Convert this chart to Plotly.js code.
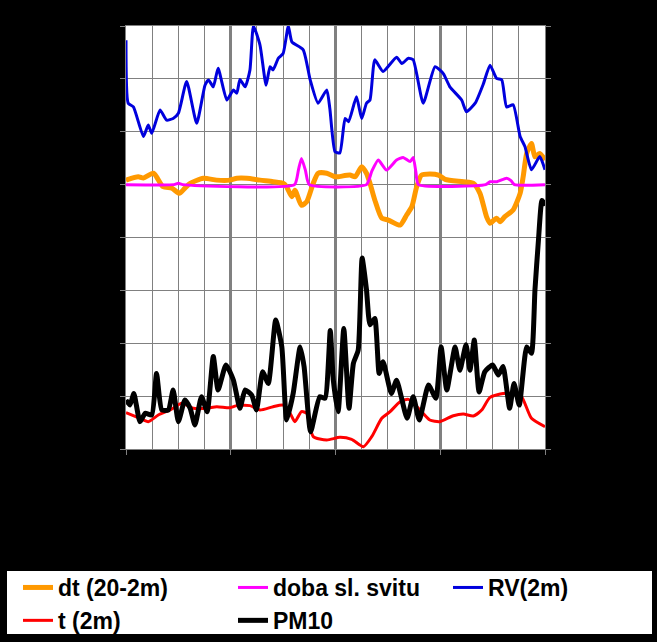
<!DOCTYPE html>
<html>
<head>
<meta charset="utf-8">
<script src="https://cdn.plot.ly/plotly-3.0.1.min.js"></script>
<style>html,body{margin:0;padding:0;background:#000;}#chart{width:657px;height:642px;}</style>
</head>
<body>
<div id="chart"></div>
<script>
// time axis: hours since 30.03.12 00:00
const dayTickVals = [0, 24, 48, 72, 96];
const dayTickText = ["30.03.12", "31.03.12", "01.04.12", "02.04.12", "03.04.12"];
const leftTitle = "dt (°C), doba sl. svitu";
const rightTitle = "PM10 (µg/m3)";

// dt (20-2m) [left axis]
const dtH = [0,2.8,4,6.3,8.5,10.5,12.2,13.5,14.7,17.7,20.8,23.8,25.4,27.7,30.7,33.7,36,36.8,38,38.7,40.2,41.4,42.9,44,46,47.9,48.6,51.3,52.5,54,55.1,55.9,57,58.6,60.1,62.8,64.3,65.5,66.6,67.7,69.6,71.6,73.1,77.3,79.6,81.1,82.6,83.4,84.9,85.7,86.8,88.7,90.3,91,91.8,92.9,93.7,94.8,96];
const dtV = [0.17,0.3,0.25,0.43,-0.08,-0.13,-0.33,-0.13,0.05,0.24,0.17,0.17,0.24,0.24,0.17,0.11,0.05,-0.08,-0.46,-0.21,-0.78,-0.65,0.05,0.43,0.43,0.3,0.3,0.36,0.3,0.68,0.43,0.05,-0.58,-1.27,-1.34,-1.53,-1.15,-0.83,-0.08,0.36,0.4,0.36,0.2,0.11,0.05,-0.33,-1.21,-1.46,-1.27,-1.4,-1.21,-0.96,-0.33,0.3,1.18,1.56,1.05,1.18,0.93];

// doba sl. svitu [left axis]
const sunH = [0,11,12,13,38.6,39.5,40.2,41.1,42,55.1,56.3,57.8,59.7,62,63.5,65.1,65.8,66.4,67,82.4,83.4,85,87.2,88.2,89,96];
const sunV = [0,0,0.05,0,0,0.55,0.99,0.55,0,0,0.5,0.93,0.55,0.93,1.03,0.87,1.03,0.5,0,0,0.11,0.11,0.24,0.15,0,0];

// RV(2m) [right axis]
const rvH = [0,0.5,1.7,4,5.1,5.9,7.8,9.3,10.8,12,13.9,16.2,18.1,18.9,20,21.1,23.1,24.6,25.4,26.1,27.3,28.4,29.2,30.7,32.1,33,33.7,34.9,36,37.2,38,40.6,42.2,44,46,46.7,47.9,49,50.2,51,52.8,54,55.1,55.9,57,58.9,62,63.2,64.7,65.8,68.1,70.8,72.7,74.2,76.9,78,80,81.9,83.4,84.9,86.1,87.2,88.7,90.3,91.4,92.9,94.8,96];
const rvV = [77.3,65.4,64.7,59.1,61.3,59.7,64.1,62.2,62.5,63.5,69.5,61.6,68.8,69.8,68.5,72,66,67.9,67.3,69.9,68.5,71.7,80,76.4,68.8,72.3,71.7,73.9,74.8,80,77,75.5,69.8,65.4,67.9,64.4,56.2,56,62.5,61.9,66.6,62.5,65.4,66,73.6,71.4,74.1,72.9,73.9,73.6,65.4,72.3,71,68.5,66,63.8,65.4,69.1,72.6,70.1,69.8,64.7,65.1,59.1,57.2,52.8,55.3,52.8];

// t (2m) [right axis]
const tH = [0,3.2,5.1,7.4,10.1,12.8,15.4,18.5,20.8,23.8,25.4,28.4,30.7,33.7,36,37.6,38.7,40.2,41.4,42.9,46,49,51.7,54.4,56.3,58.6,60.5,62.8,64.7,67,69.6,71.9,75,77.3,79.6,81.5,83.4,86.4,88.4,90.6,92.9,96];
const tV = [6.87,5.8,5.17,6.43,7.38,8.64,7.7,7.7,8,7.8,8.2,8.2,7.38,8,8.3,6.75,5.17,7.06,6.75,2.33,1.7,2.2,1.83,0.44,2.33,5.8,7.06,8.95,9.39,7.7,5.48,5.17,6.3,6.62,6.24,7.38,9.77,10.5,10.5,9.9,5.8,4.22];

// PM10 [right axis]
const pmH = [0,0.9,1.8,3.2,4.4,5.9,7,8.2,9.7,10.8,12,13.5,14.7,15.8,17.3,18.6,20,21.1,22.9,24.6,26.1,27.3,28.8,29.9,31.3,32.6,34.3,35.7,36.8,38.3,39.9,40.8,42.3,44.4,45.6,46.8,47.5,48.6,49.9,51.1,52.1,53.2,54.1,55.1,55.9,57,58,58.9,60.8,62,64.4,65.8,67.2,69.3,71,72.2,73.5,75.4,76.5,77.9,78.8,79.8,80.9,82.2,84,85.3,86.4,87.9,88.9,90.1,91.8,92.9,93.7,94.5,95.3,96];
const pmV = [9.27,8.3,10.5,5.17,6.75,6.43,14.3,7.38,7.38,11.16,5.17,9.27,7.7,4.54,9.9,7.06,17.5,11.16,15.9,13.05,7.7,11.16,10.2,7.38,14.6,12.4,24.4,19.3,5.48,10.5,19.3,15.6,3.27,9.9,9.6,22.4,13,7.06,22.8,7.7,16.2,18.7,36.1,30.1,23.5,24.7,14.3,16.5,10.5,13,5.8,9.9,5.48,12.1,9.6,19.3,11.16,19.3,14.9,19.7,14.9,20.6,10.8,14.6,15.9,14,15.6,7.7,12.4,8.3,19.3,18.1,30.1,39.5,47,46];

const FONT = "Arial, 'Liberation Sans', sans-serif";
const GRID = "#808080";

const traces = [
  {x: dtH, y: dtV, name: "dt (20-2m)", type: "scatter", mode: "lines", yaxis: "y", legend: "legend",
   line: {color: "#FF9900", width: 5, shape: "spline", smoothing: 0.6}},
  {x: sunH, y: sunV, name: "doba sl. svitu", type: "scatter", mode: "lines", yaxis: "y", legend: "legend2",
   line: {color: "#FF00FF", width: 3, shape: "spline", smoothing: 0.5}},
  {x: rvH, y: rvV, name: "RV(2m)", type: "scatter", mode: "lines", yaxis: "y2", legend: "legend3",
   line: {color: "#0000DD", width: 3, shape: "spline", smoothing: 0.5}},
  {x: tH, y: tV, name: "t (2m)", type: "scatter", mode: "lines", yaxis: "y2", legend: "legend",
   line: {color: "#FF0000", width: 3, shape: "spline", smoothing: 0.6}},
  {x: pmH, y: pmV, name: "PM10", type: "scatter", mode: "lines", yaxis: "y2", legend: "legend2",
   line: {color: "#000000", width: 5, shape: "spline", smoothing: 0.5}}
];

function legendAt(px) {
  return {
    orientation: "v", xref: "container", yref: "container",
    x: px / 657, y: 1 - 566 / 642, xanchor: "left", yanchor: "top",
    bgcolor: "rgba(0,0,0,0)", borderwidth: 0, tracegroupgap: 0,
    font: {family: FONT, size: 23, color: "#000000", weight: "bold"},
    traceorder: "normal"
  };
}

const layout = {
  width: 657, height: 642,
  paper_bgcolor: "#000000", plot_bgcolor: "#FFFFFF",
  margin: {l: 126, r: 112, t: 26, b: 193, pad: 0, autoexpand: false},
  font: {family: FONT, color: "#000000", size: 23},
  showlegend: true,
  xaxis: {
    range: [0, 96], tickmode: "array", tickvals: dayTickVals, ticktext: dayTickText,
    tickangle: -90, tickfont: {size: 23, color: "#000000"},
    showgrid: true, gridcolor: GRID, gridwidth: 3,
    minor: {tickmode: "linear", tick0: 0, dtick: 6, showgrid: true, gridcolor: GRID, gridwidth: 1, ticks: ""},
    showline: true, linecolor: GRID, linewidth: 1, mirror: true,
    ticks: "outside", ticklen: 5, tickcolor: GRID, ticklabelstandoff: 6,
    zeroline: false, fixedrange: true, automargin: false
  },
  yaxis: {
    range: [-10, 6], tickmode: "linear", tick0: -10, dtick: 2, tickformat: ".1f",
    tickfont: {size: 23, color: "#000000"},
    showgrid: true, gridcolor: GRID, gridwidth: 1, zeroline: false,
    showline: true, linecolor: GRID, linewidth: 1, mirror: true,
    ticks: "outside", ticklen: 5, tickcolor: GRID, ticklabelstandoff: 10, automargin: false
  },
  yaxis2: {
    range: [0, 80], tickmode: "linear", tick0: 0, dtick: 10, overlaying: "y", side: "right",
    tickfont: {size: 23, color: "#000000"},
    showgrid: false, zeroline: false, showline: true, linecolor: GRID, linewidth: 1,
    ticks: "outside", ticklen: 5, tickcolor: GRID, ticklabelstandoff: 10, automargin: false
  },
  annotations: [
    {text: leftTitle, xref: "paper", yref: "paper", x: (25 - 126) / 419, y: 0.5,
     xanchor: "center", yanchor: "middle", textangle: -90, showarrow: false,
     font: {family: FONT, size: 23, color: "#000000"}},
    {text: rightTitle, xref: "paper", yref: "paper", x: (632 - 126) / 419, y: 0.5,
     xanchor: "center", yanchor: "middle", textangle: -90, showarrow: false,
     font: {family: FONT, size: 23, color: "#000000"}}
  ],
  legend: legendAt(18),
  legend2: legendAt(233),
  legend3: legendAt(448),
  shapes: [{
    type: "rect", xref: "paper", yref: "paper", layer: "above",
    x0: (7 - 126) / 419, x1: (652 - 126) / 419,
    y0: (449 - 634) / 423, y1: (449 - 571) / 423,
    fillcolor: "#FFFFFF", line: {width: 0}
  }]
};

Plotly.newPlot("chart", traces, layout, {staticPlot: true, displayModeBar: false});
</script>
</body>
</html>
